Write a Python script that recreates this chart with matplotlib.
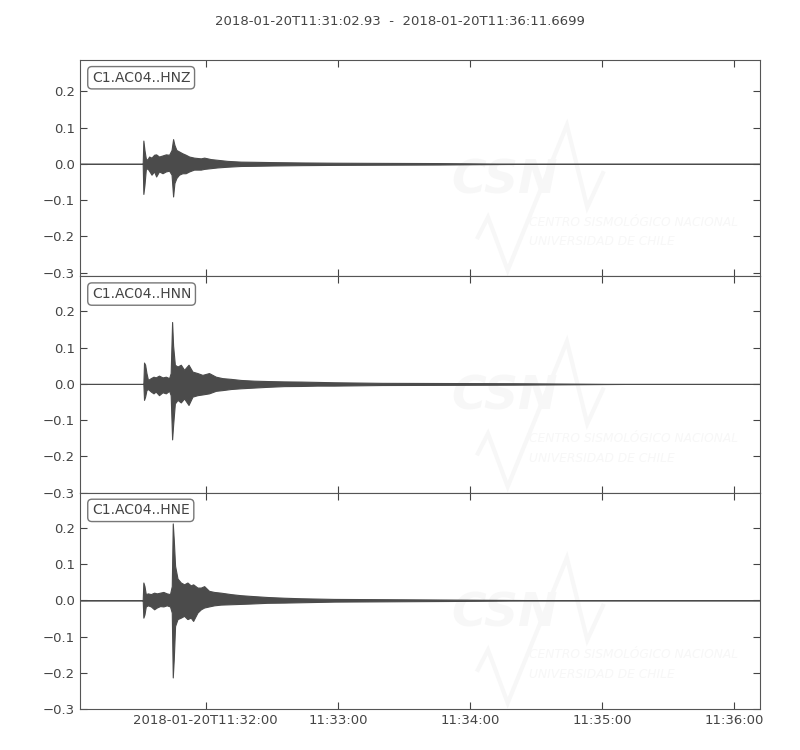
#!/usr/bin/env python3
"""Three-component strong-motion record, station C1.AC04 (ObsPy-style plot)."""

import datetime as dt

import matplotlib

matplotlib.use("Agg")
import matplotlib.dates as mdates
import matplotlib.pyplot as plt
from matplotlib.ticker import FuncFormatter, MultipleLocator

START = dt.datetime(2018, 1, 20, 11, 31, 2, 930000)
END = dt.datetime(2018, 1, 20, 11, 36, 11, 669900)
REF = dt.datetime(2018, 1, 20, 11, 32, 0)

CHANNELS = ["C1.AC04..HNZ", "C1.AC04..HNN", "C1.AC04..HNE"]
Y_LIMITS = [(-0.31, 0.286), (-0.30, 0.297), (-0.30, 0.297)]

# Trace envelopes: seconds after 11:32:00, max and min amplitude
HNZ_T = [-57.07, -28.6, -28.3, -27.8, -27.2, -26.5, -25.7, -24.6, -23.4, -22.5,
         -21.2, -19.6, -18.1, -16.6, -15.5, -14.8, -14.2, -13.3, -12.1, -10.6,
         -9.1, -7.5, -5.3, -2.2, -0.7, 2.3, 5.3, 9.9, 15.9, 22.0,
         31.0, 43.2, 58.3, 80.0, 106.0, 125.0, 150.0, 251.67]
HNZ_HI = [0, 0, 0.064, 0.038, 0.015, 0.011, 0.020, 0.017, 0.025, 0.026,
          0.020, 0.023, 0.026, 0.025, 0.038, 0.068, 0.052, 0.038, 0.034, 0.029,
          0.025, 0.020, 0.017, 0.015, 0.017, 0.013, 0.011, 0.008, 0.006, 0.0055,
          0.0046, 0.0037, 0.003, 0.0025, 0.002, 0.001, 0, 0]
HNZ_LO = [0, 0, -0.083, -0.058, -0.016, -0.012, -0.019, -0.030, -0.021, -0.035,
          -0.021, -0.026, -0.021, -0.019, -0.030, -0.090, -0.053, -0.039, -0.030, -0.026,
          -0.026, -0.021, -0.016, -0.016, -0.014, -0.012, -0.010, -0.008, -0.006, -0.0055,
          -0.0046, -0.0037, -0.003, -0.0025, -0.002, -0.001, 0, 0]

HNN_T = [-57.07, -28.3, -28.0, -27.5, -26.9, -26.2, -24.9, -23.7, -22.7, -21.2,
         -19.6, -18.1, -16.6, -15.9, -15.25, -14.8, -14.0, -12.8, -11.3, -9.8,
         -7.8, -6.0, -3.75, -1.5, 1.5, 4.6, 7.6, 11.4, 15.9, 22.0,
         28.0, 35.6, 43.2, 50.7, 58.3, 80.0, 110.0, 140.0, 165.0, 190.0, 251.67]
HNN_HI = [0, 0, 0.059, 0.053, 0.030, 0.011, 0.016, 0.020, 0.018, 0.023,
          0.018, 0.020, 0.016, 0.030, 0.171, 0.106, 0.053, 0.048, 0.053, 0.039,
          0.053, 0.034, 0.030, 0.025, 0.030, 0.020, 0.016, 0.014, 0.011, 0.009,
          0.008, 0.007, 0.0065, 0.0056, 0.0046, 0.003, 0.0025, 0.002, 0.001, 0, 0]
HNN_LO = [0, 0, -0.044, -0.035, -0.017, -0.014, -0.021, -0.026, -0.021, -0.031,
          -0.023, -0.026, -0.019, -0.031, -0.153, -0.114, -0.054, -0.044, -0.051, -0.040,
          -0.058, -0.035, -0.031, -0.029, -0.026, -0.019, -0.017, -0.014, -0.012, -0.010,
          -0.008, -0.006, -0.0056, -0.0046, -0.0046, -0.003, -0.0025, -0.002, -0.001, 0, 0]

HNE_T = [-57.07, -28.6, -28.3, -27.8, -27.2, -26.2, -24.9, -23.4, -22.2, -20.7,
         -19.2, -17.7, -16.2, -15.4, -14.95, -14.5, -13.9, -12.8, -11.3, -9.8,
         -8.3, -6.8, -5.7, -3.75, -2.2, -0.7, 1.5, 3.8, 6.8, 11.4,
         15.9, 20.5, 28.0, 35.6, 43.2, 50.7, 58.3, 80.0, 110.0, 135.0, 160.0, 251.67]
HNE_HI = [0, 0, 0.049, 0.039, 0.017, 0.019, 0.017, 0.021, 0.019, 0.021,
          0.023, 0.019, 0.017, 0.039, 0.212, 0.168, 0.095, 0.060, 0.049, 0.044,
          0.049, 0.041, 0.044, 0.035, 0.035, 0.039, 0.026, 0.023, 0.021, 0.017,
          0.014, 0.012, 0.009, 0.007, 0.0055, 0.0046, 0.0037, 0.003, 0.002, 0.001, 0, 0]
HNE_LO = [0, 0, -0.048, -0.039, -0.017, -0.014, -0.017, -0.025, -0.020, -0.016,
          -0.017, -0.014, -0.017, -0.034, -0.213, -0.163, -0.071, -0.052, -0.048, -0.043,
          -0.052, -0.048, -0.057, -0.034, -0.025, -0.020, -0.017, -0.014, -0.012, -0.011,
          -0.010, -0.009, -0.007, -0.0064, -0.0055, -0.0046, -0.0037, -0.003, -0.002, -0.001, 0, 0]

TRACES = [(HNZ_T, HNZ_HI, HNZ_LO), (HNN_T, HNN_HI, HNN_LO), (HNE_T, HNE_HI, HNE_LO)]

# faint CSN watermark (axes fraction)
LOGO_X = [0.585, 0.600, 0.629, 0.716, 0.746, 0.769]
LOGO_Y = [0.181, 0.273, 0.028, 0.699, 0.319, 0.477]

TRACE_COLOR = "#4b4b4b"
TEXT_COLOR = "#444444"
MARK_COLOR = "#f7f7f7"


def _to_dates(seconds):
    return [REF + dt.timedelta(seconds=s) for s in seconds]


def _tick_label(x, pos):
    d = mdates.num2date(x)
    if pos == 0:
        return d.strftime("%Y-%m-%dT%H:%M:%S")
    return d.strftime("%H:%M:%S")


def _watermark(ax):
    ax.plot(LOGO_X, LOGO_Y, transform=ax.transAxes, color=MARK_COLOR,
            lw=3.0, solid_joinstyle="miter", zorder=0)
    ax.text(0.625, 0.44, "CSN", transform=ax.transAxes, ha="center", va="center",
            fontsize=34, fontweight="bold", fontstyle="italic", color=MARK_COLOR,
            zorder=0)
    ax.text(0.66, 0.25, "CENTRO SISMOLÓGICO NACIONAL", transform=ax.transAxes,
            ha="left", va="center", fontsize=8.8, fontstyle="italic", color=MARK_COLOR,
            zorder=0)
    ax.text(0.66, 0.16, "UNIVERSIDAD DE CHILE", transform=ax.transAxes,
            ha="left", va="center", fontsize=8.8, fontstyle="italic", color=MARK_COLOR,
            zorder=0)


def main() -> None:
    plt.rcParams["font.family"] = ["DejaVu Sans"]
    fig, axes = plt.subplots(3, 1, figsize=(8, 7.5), dpi=100, sharex=True)
    fig.subplots_adjust(left=0.1, right=0.95, top=0.92, bottom=0.0547, hspace=0)

    for ax, label, (t, hi, lo), ylim in zip(axes, CHANNELS, TRACES, Y_LIMITS):
        _watermark(ax)
        ax.fill_between(_to_dates(t), lo, hi, color=TRACE_COLOR, lw=0.8, zorder=2)
        ax.set_ylim(*ylim)
        ax.yaxis.set_major_locator(MultipleLocator(0.1))
        ax.yaxis.set_major_formatter(FuncFormatter(lambda v, p: f"{v:.1f}".replace("-", "\u2212")))
        ax.tick_params(direction="in", length=5, top=True, right=True,
                       colors=TEXT_COLOR, labelsize=9.5, width=0.8)
        for sp in ax.spines.values():
            sp.set_color("#555555")
        ax.text(0.0175, 0.918, label, transform=ax.transAxes, ha="left", va="center",
                fontsize=10, color=TEXT_COLOR,
                bbox=dict(boxstyle="round,pad=0.3", fc="white", ec="#777777", lw=1.0),
                zorder=5)

    axes[-1].set_xlim(START, END)
    axes[-1].xaxis.set_major_locator(mdates.MinuteLocator())
    axes[-1].xaxis.set_major_formatter(FuncFormatter(_tick_label))

    fig.suptitle("2018-01-20T11:31:02.93  -  2018-01-20T11:36:11.6699",
                 y=0.98, fontsize=9.5, color=TEXT_COLOR)
    fig.savefig("out.png", dpi=100)
    plt.close(fig)


if __name__ == "__main__":
    main()
